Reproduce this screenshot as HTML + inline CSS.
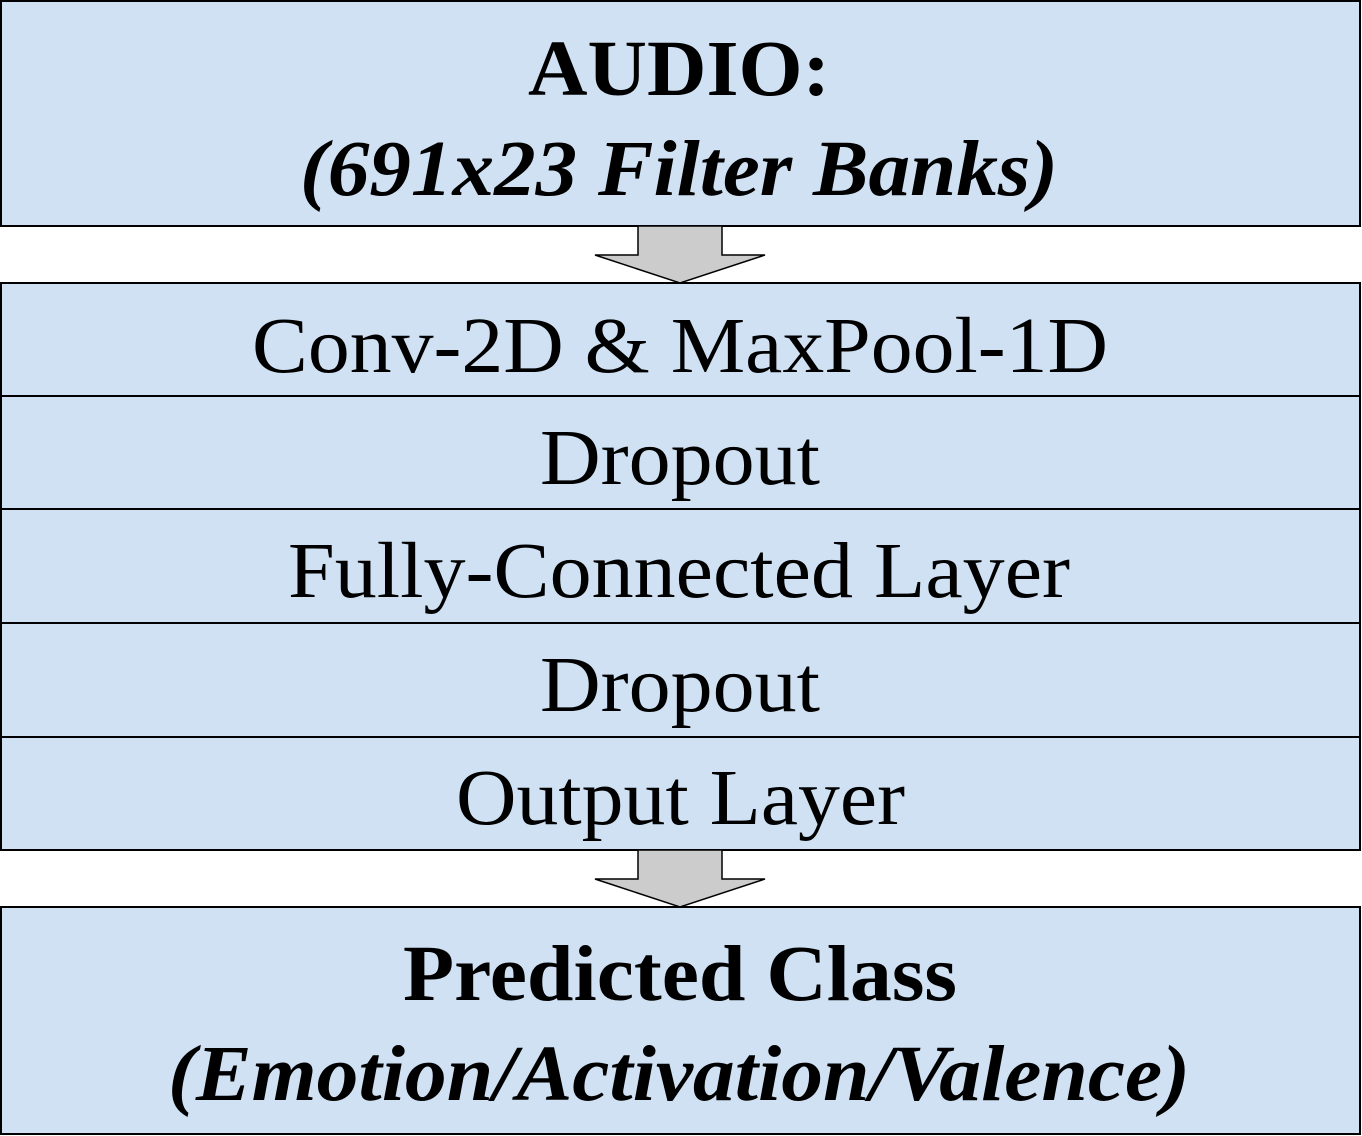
<!DOCTYPE html>
<html><head><meta charset="utf-8"><style>html,body{margin:0;padding:0;background:#fff}svg{display:block}</style></head>
<body>
<svg width="1362" height="1136" viewBox="0 0 1362 1136" xmlns="http://www.w3.org/2000/svg" font-family="'Liberation Serif', serif">
<g fill="#cfe1f3" stroke="#000" stroke-width="2">
<rect x="1" y="1" width="1359" height="225"/>
<rect x="1" y="283" width="1359" height="113"/>
<rect x="1" y="396" width="1359" height="113"/>
<rect x="1" y="509" width="1359" height="114"/>
<rect x="1" y="623" width="1359" height="114"/>
<rect x="1" y="737" width="1359" height="113"/>
<rect x="1" y="907" width="1359" height="227"/>
</g>
<g fill="#cccccc" stroke="#000" stroke-width="1.5">
<polygon points="638,226 722,226 722,255 765,255 680,283 595,255 638,255"/>
<polygon points="638,850 722,850 722,879 765,879 680,907 595,879 638,879"/>
</g>
<g fill="#000" font-size="79" lengthAdjust="spacingAndGlyphs">
<text x="528" y="95" textLength="302" lengthAdjust="spacingAndGlyphs" font-weight="bold">AUDIO:</text>
<text x="300" y="195" textLength="758" lengthAdjust="spacingAndGlyphs" font-weight="bold" font-style="italic">(691x23 Filter Banks)</text>
<text x="252" y="372" textLength="856" lengthAdjust="spacingAndGlyphs">Conv-2D &amp; MaxPool-1D</text>
<text x="540" y="484" textLength="280" lengthAdjust="spacingAndGlyphs">Dropout</text>
<text x="288" y="597" textLength="782" lengthAdjust="spacingAndGlyphs">Fully-Connected Layer</text>
<text x="540" y="711" textLength="280" lengthAdjust="spacingAndGlyphs">Dropout</text>
<text x="456" y="824" textLength="449" lengthAdjust="spacingAndGlyphs">Output Layer</text>
<text x="403" y="1000" textLength="554" lengthAdjust="spacingAndGlyphs" font-weight="bold">Predicted Class</text>
<text x="168" y="1100" textLength="1022" lengthAdjust="spacingAndGlyphs" font-weight="bold" font-style="italic">(Emotion/Activation/Valence)</text>
</g>
</svg>
</body></html>
